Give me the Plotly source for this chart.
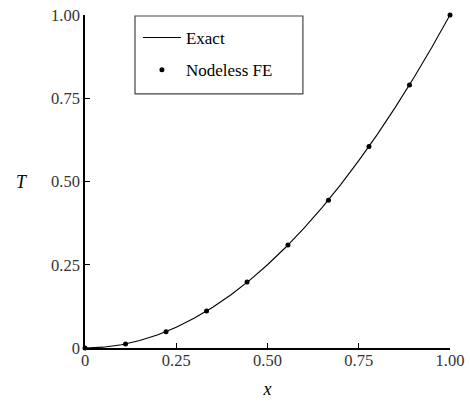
import plotly.graph_objects as go

# Exact solution curve
exact_x = [0.0, 0.05, 0.10, 0.15, 0.20, 0.25, 0.30, 0.35, 0.40, 0.45, 0.50,
           0.55, 0.60, 0.65, 0.70, 0.75, 0.80, 0.85, 0.90, 0.95, 1.0]
exact_T = [0.0, 0.0025, 0.010, 0.0225, 0.040, 0.0625, 0.090, 0.1225, 0.160, 0.2025, 0.250,
           0.3025, 0.360, 0.4225, 0.490, 0.5625, 0.640, 0.7225, 0.810, 0.9025, 1.0]

# Nodeless FE results
fe_x = [0.0, 0.111, 0.222, 0.333, 0.444, 0.556, 0.667, 0.778, 0.889, 1.0]
fe_T = [0.0, 0.012, 0.049, 0.111, 0.198, 0.309, 0.444, 0.605, 0.790, 1.0]

tick_vals = [0, 0.25, 0.5, 0.75, 1.0]
tick_text = ["0", "0.25", "0.50", "0.75", "1.00"]

font_family = "Liberation Serif"

fig = go.Figure()
fig.add_trace(go.Scatter(x=exact_x, y=exact_T, mode="lines", name="Exact",
                         legendgroup="a",
                         line=dict(color="black", width=1.1)))
fig.add_trace(go.Scatter(x=fe_x, y=fe_T, mode="markers", name="Nodeless FE",
                         legendgroup="b",
                         marker=dict(color="black", size=5), cliponaxis=False))

axis_common = dict(range=[0, 1], tickvals=tick_vals, ticktext=tick_text,
                   ticks="inside", ticklen=5, tickwidth=1.2, tickcolor="black",
                   showline=True, linecolor="black", linewidth=1.5,
                   showgrid=False, zeroline=False, automargin=False,
                   tickfont=dict(family=font_family, size=16.5, color="#333"))

fig.update_layout(
    width=470, height=403,
    margin=dict(l=85, r=20, t=15, b=55),
    paper_bgcolor="white", plot_bgcolor="white",
    font=dict(family=font_family, color="black"),
    xaxis=dict(**axis_common, ticklabelstandoff=-4,
               title=dict(text="<i>x</i>", font=dict(family=font_family, size=18), standoff=14)),
    yaxis=dict(**axis_common),
    legend=dict(x=0.145, y=0.985, xanchor="left", yanchor="top",
                borderwidth=0, bgcolor="rgba(0,0,0,0)",
                tracegroupgap=7, itemwidth=38,
                font=dict(family=font_family, size=17, color="black")),
    showlegend=True,
    shapes=[dict(type="rect", xref="paper", yref="paper",
                 x0=0.137, x1=0.597, y0=0.763, y1=0.997,
                 line=dict(color="#444", width=1.2), fillcolor="rgba(0,0,0,0)",
                 layer="above")],
    annotations=[dict(text="<i>T</i>", xref="paper", yref="paper", x=-0.173, y=0.5,
                      xanchor="center", yanchor="middle",
                      showarrow=False, font=dict(family=font_family, size=18, color="black"))],
)
fig.write_html("out.html", config={"displayModeBar": False},
               post_script="document.body.style.margin='0';")
